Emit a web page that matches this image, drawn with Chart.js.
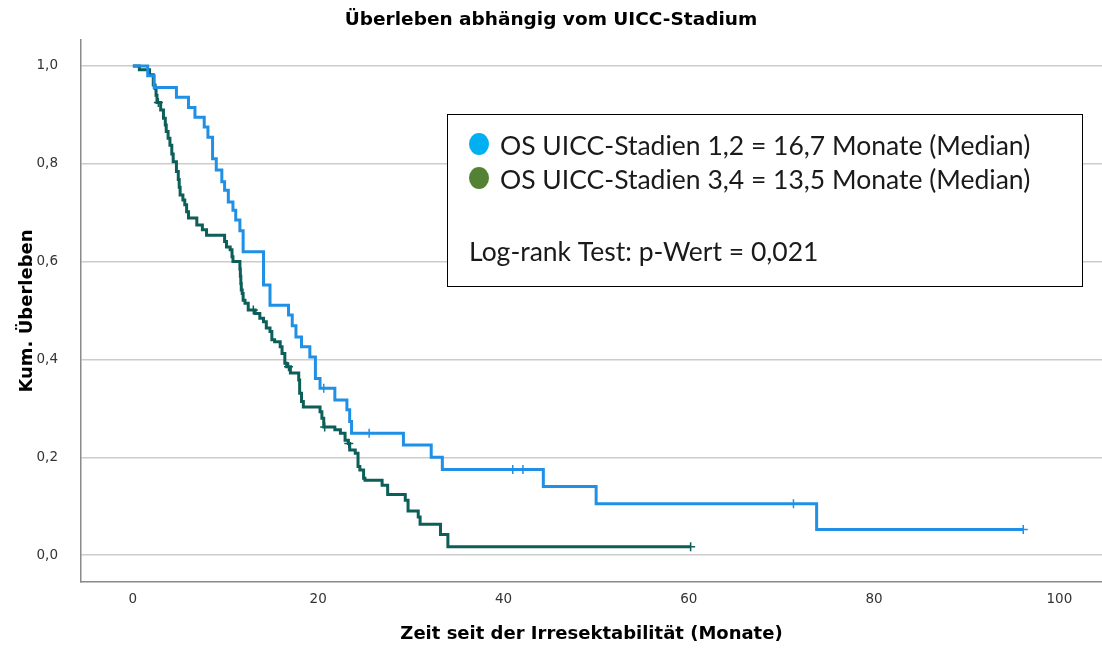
<!DOCTYPE html>
<html>
<head>
<meta charset="utf-8">
<title>Überleben abhängig vom UICC-Stadium</title>
<script src="https://cdn.jsdelivr.net/npm/chart.js@4.4.1/dist/chart.umd.min.js"></script>
<style>
  html, body { margin: 0; padding: 0; background: #ffffff; }
  #wrap { width: 1102px; height: 648px; }
</style>
</head>
<body>
<div id="wrap"><canvas id="km" width="1102" height="648"></canvas></div>
<script>
// Axis ticks
const xTicks = [0, 20, 40, 60, 80, 100];
const yTicks = [0, 0.2, 0.4, 0.6, 0.8, 1.0];

// Kaplan-Meier steps, UICC stages 1,2 (time in months, cumulative survival after the step)
const stage12Time = [0, 1.6, 2.3, 4.7, 6.0, 6.7, 7.7, 8.1, 8.6, 9.0, 9.6, 9.9, 10.3, 10.8, 11.1, 11.55, 11.9,
  14.1, 14.8, 16.8, 17.2, 17.6, 18.2, 19.1, 19.7, 20.2, 21.8, 23.1, 23.4, 23.6, 29.2, 32.2, 33.4, 44.3, 50.0, 73.8, 96.1];
const stage12Surv = [1.0, 0.98, 0.956, 0.936, 0.915, 0.895, 0.875, 0.854, 0.81, 0.787, 0.763, 0.746, 0.722, 0.705, 0.685, 0.663, 0.62,
  0.552, 0.511, 0.491, 0.469, 0.446, 0.426, 0.405, 0.361, 0.341, 0.317, 0.297, 0.273, 0.249, 0.225, 0.2, 0.175, 0.14, 0.105, 0.0525, 0.0525];
// Censored cases, stages 1,2
const stage12CensTime = [20.6, 25.5, 41.0, 42.1, 71.3, 96.1];
const stage12CensSurv = [0.341, 0.249, 0.175, 0.175, 0.105, 0.0525];

// Kaplan-Meier steps, UICC stages 3,4
const stage34Time = [0, 0.7, 1.8, 2.2, 2.4, 2.5, 2.6, 3.0, 3.3, 3.5, 3.6, 3.8, 4.0, 4.2, 4.35, 4.7, 4.9, 5.0, 5.1, 5.4, 5.6, 5.8, 6.0,
  6.9, 7.5, 7.95, 9.9, 10.1, 10.5, 10.7, 10.8, 11.55, 11.6, 11.65, 11.7, 11.8, 11.9, 12.1, 12.45, 13.2, 13.7, 14.1, 14.4, 14.8, 15.0,
  15.3, 15.9, 16.1, 16.4, 16.6, 17.0, 17.9, 18.0, 18.2, 18.4, 20.2, 20.4, 20.6, 21.8, 22.4, 22.9, 23.25, 23.4, 24.0, 24.3, 24.5, 24.9,
  25.05, 26.9, 27.5, 29.4, 29.7, 30.8, 31.0, 33.2, 34.0, 60.2];
const stage34Surv = [1.0, 0.992, 0.982, 0.961, 0.954, 0.94, 0.925, 0.91, 0.893, 0.879, 0.866, 0.852, 0.838, 0.82, 0.804, 0.784, 0.768, 0.752, 0.736, 0.726, 0.716, 0.702, 0.689,
  0.675, 0.665, 0.654, 0.641, 0.63, 0.624, 0.61, 0.6, 0.585, 0.57, 0.555, 0.542, 0.535, 0.521, 0.515, 0.501, 0.494, 0.484, 0.477, 0.464, 0.457, 0.44,
  0.436, 0.426, 0.412, 0.392, 0.385, 0.372, 0.358, 0.331, 0.314, 0.303, 0.293, 0.28, 0.262, 0.256, 0.249, 0.235, 0.228, 0.215, 0.208, 0.181, 0.174, 0.157,
  0.153, 0.143, 0.124, 0.112, 0.09, 0.078, 0.063, 0.042, 0.017, 0.017];
// Censored cases, stages 3,4
const stage34CensTime = [2.75, 13.0, 16.8, 20.7, 23.3, 60.2];
const stage34CensSurv = [0.925, 0.501, 0.385, 0.262, 0.228, 0.017];

// Legend / annotation text
const legendLines = [
  'OS UICC-Stadien 1,2 = 16,7 Monate (Median)',
  'OS UICC-Stadien 3,4 = 13,5 Monate (Median)'
];
const testLine = 'Log-rank Test: p-Wert = 0,021';

const BLUE = '#1f90e6';
const TEAL = '#0c5f58';

const toPoints = (xs, ys) => xs.map((x, i) => ({ x: x, y: ys[i] }));
const decimalComma = v => v.toFixed(1).replace('.', ',');

// Boxed annotation with coloured dots and the test result
const infoBox = {
  id: 'infoBox',
  afterDraw(chart) {
    const c = chart.ctx;
    c.save();
    c.fillStyle = '#ffffff';
    c.fillRect(447, 114, 635, 172);
    c.strokeStyle = '#000000';
    c.lineWidth = 1;
    c.strokeRect(447.5, 114.5, 635, 172);

    const dotColors = ['#00b0f0', '#548235'];
    const baselines = [155, 189];
    c.font = '26.5px Lato';
    c.textBaseline = 'alphabetic';
    c.textAlign = 'left';
    legendLines.forEach((txt, i) => {
      c.beginPath();
      c.fillStyle = dotColors[i];
      c.ellipse(479, baselines[i] - 11, 10, 11, 0, 0, Math.PI * 2);
      c.fill();
      c.fillStyle = '#1a1a1a';
      c.fillText(txt, 500, baselines[i]);
    });
    c.fillStyle = '#1a1a1a';
    c.fillText(testLine, 469, 261);
    c.restore();
  }
};

new Chart(document.getElementById('km'), {
  type: 'line',
  data: {
    datasets: [
      {
        label: 'UICC 1,2',
        data: toPoints(stage12Time, stage12Surv),
        borderColor: BLUE,
        borderWidth: 3,
        stepped: 'before',
        pointRadius: 0,
        fill: false
      },
      {
        label: 'UICC 3,4',
        data: toPoints(stage34Time, stage34Surv),
        borderColor: TEAL,
        borderWidth: 3,
        stepped: 'before',
        pointRadius: 0,
        fill: false
      },
      {
        label: 'UICC 1,2 zensiert',
        data: toPoints(stage12CensTime, stage12CensSurv),
        showLine: false,
        pointStyle: 'cross',
        pointRadius: 4.5,
        pointBorderWidth: 1.5,
        pointBorderColor: BLUE,
        borderColor: BLUE
      },
      {
        label: 'UICC 3,4 zensiert',
        data: toPoints(stage34CensTime, stage34CensSurv),
        showLine: false,
        pointStyle: 'cross',
        pointRadius: 4.5,
        pointBorderWidth: 1.5,
        pointBorderColor: TEAL,
        borderColor: TEAL
      }
    ]
  },
  options: {
    responsive: false,
    animation: false,
    events: [],
    layout: { autoPadding: false, padding: { top: 0, right: 0, bottom: 0, left: 0 } },
    plugins: {
      legend: { display: false },
      tooltip: { enabled: false },
      title: {
        display: true,
        text: 'Überleben abhängig vom UICC-Stadium',
        color: '#000000',
        font: { family: 'DejaVu Sans', size: 18.5, weight: 'bold', lineHeight: 1.2 },
        padding: { top: 9, bottom: 8.8 }
      }
    },
    scales: {
      x: {
        type: 'linear',
        min: -5.6,
        max: 104.6,
        afterBuildTicks(scale) { scale.ticks = xTicks.map(v => ({ value: v })); },
        afterFit(scale) {
          scale.height = 66;
          scale.paddingLeft = 0;
          scale.paddingRight = 0;
        },
        grid: { display: false, drawTicks: false },
        border: { display: true, color: '#8a8a8a', width: 1.5 },
        ticks: {
          color: '#333333',
          font: { family: 'DejaVu Sans', size: 13.5 },
          padding: 9,
          maxRotation: 0,
          callback: v => String(v)
        },
        title: {
          display: true,
          text: 'Zeit seit der Irresektabilität (Monate)',
          color: '#000000',
          font: { family: 'DejaVu Sans', size: 18, weight: 'bold', lineHeight: 1.2 },
          padding: { top: 0, bottom: 3 }
        }
      },
      y: {
        type: 'linear',
        min: -0.055,
        max: 1.053,
        afterBuildTicks(scale) { scale.ticks = yTicks.map(v => ({ value: v })); },
        afterFit(scale) {
          scale.width = 81;
          scale.paddingTop = 0;
          scale.paddingBottom = 0;
        },
        grid: { display: true, drawTicks: false, color: '#cccccc', lineWidth: 1.5 },
        border: { display: true, color: '#8a8a8a', width: 1.5 },
        ticks: {
          color: '#333333',
          font: { family: 'DejaVu Sans', size: 13.5 },
          padding: 23,
          callback: v => decimalComma(v)
        },
        title: {
          display: true,
          text: 'Kum. Überleben',
          color: '#000000',
          font: { family: 'DejaVu Sans', size: 18, weight: 'bold', lineHeight: 1.2 },
          padding: { top: 17, bottom: 0 }
        }
      }
    }
  },
  plugins: [infoBox]
});
</script>
</body>
</html>
